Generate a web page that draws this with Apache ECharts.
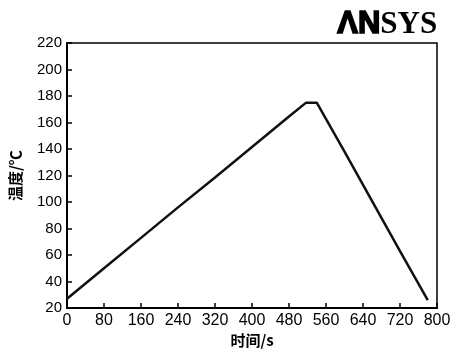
<!DOCTYPE html>
<html>
<head>
<meta charset="utf-8">
<script src="https://cdn.jsdelivr.net/npm/echarts@6/dist/echarts.min.js"></script>
<style>
  html, body { margin: 0; padding: 0; background: #fff; }
  #chart { width: 457px; height: 353px; }
</style>
</head>
<body>
<div id="chart"></div>
<script>
// Heating / holding / cooling profile: time (s) vs temperature (°C)
const timeSec = [0, 80, 160, 240, 320, 400, 480, 517, 540, 600, 660, 720, 780];
const tempC   = [27, 50, 73, 96, 118.5, 141.5, 164.5, 175, 175, 138, 100.5, 63, 26];

const xTicks = { min: 0, max: 800, interval: 80 };
const yTicks = { min: 20, max: 220, interval: 20 };

const xName = '时间/s';
const yName = '温度/℃';
const logoBold = 'ΛN';
const logoSerif = 'SYS';

const chart = echarts.init(document.getElementById('chart'));
const sans = 'Liberation Sans, Arial, sans-serif';

chart.setOption({
  animation: false,
  backgroundColor: '#fff',
  title: {
    right: 14,
    top: 4,
    text: '{a|' + logoBold + '}{b|' + logoSerif + '}',
    textStyle: {
      rich: {
        a: { fontFamily: sans, fontWeight: 'bold', fontSize: 31, color: '#000',
             textBorderColor: '#000', textBorderWidth: 1.6 },
        b: { fontFamily: 'Liberation Serif, Times New Roman, serif', fontSize: 31, color: '#000' }
      }
    }
  },
  grid: {
    left: 64, right: 20, top: 43, bottom: 36,
    show: true, borderColor: '#000', borderWidth: 1.5, backgroundColor: 'transparent'
  },
  xAxis: {
    type: 'value',
    min: xTicks.min, max: xTicks.max, interval: xTicks.interval,
    name: xName, nameLocation: 'middle', nameGap: 22,
    nameTextStyle: { fontFamily: 'Noto Sans CJK SC', fontWeight: 'bold', fontSize: 15, color: '#000' },
    axisLine: { lineStyle: { color: '#000', width: 2 } },
    axisTick: { inside: true, length: 5, lineStyle: { color: '#000', width: 1.5 } },
    axisLabel: { fontFamily: sans, fontSize: 16, color: '#000', margin: 4 },
    splitLine: { show: false }
  },
  yAxis: {
    type: 'value',
    min: yTicks.min, max: yTicks.max, interval: yTicks.interval,
    name: yName, nameLocation: 'middle', nameGap: 44, nameRotate: 90,
    nameTextStyle: { fontFamily: 'Noto Sans CJK SC', fontWeight: 'bold', fontSize: 15, color: '#000' },
    axisLine: { show: true, lineStyle: { color: '#000', width: 2 } },
    axisTick: { show: true, inside: true, length: 5, lineStyle: { color: '#000', width: 1.5 } },
    axisLabel: { fontFamily: sans, fontSize: 15, color: '#000', margin: 5 },
    splitLine: { show: false }
  },
  series: [{
    type: 'line',
    data: timeSec.map((t, i) => [t, tempC[i]]),
    showSymbol: false,
    lineStyle: { color: '#111', width: 2.5 }
  }]
});
</script>
</body>
</html>
